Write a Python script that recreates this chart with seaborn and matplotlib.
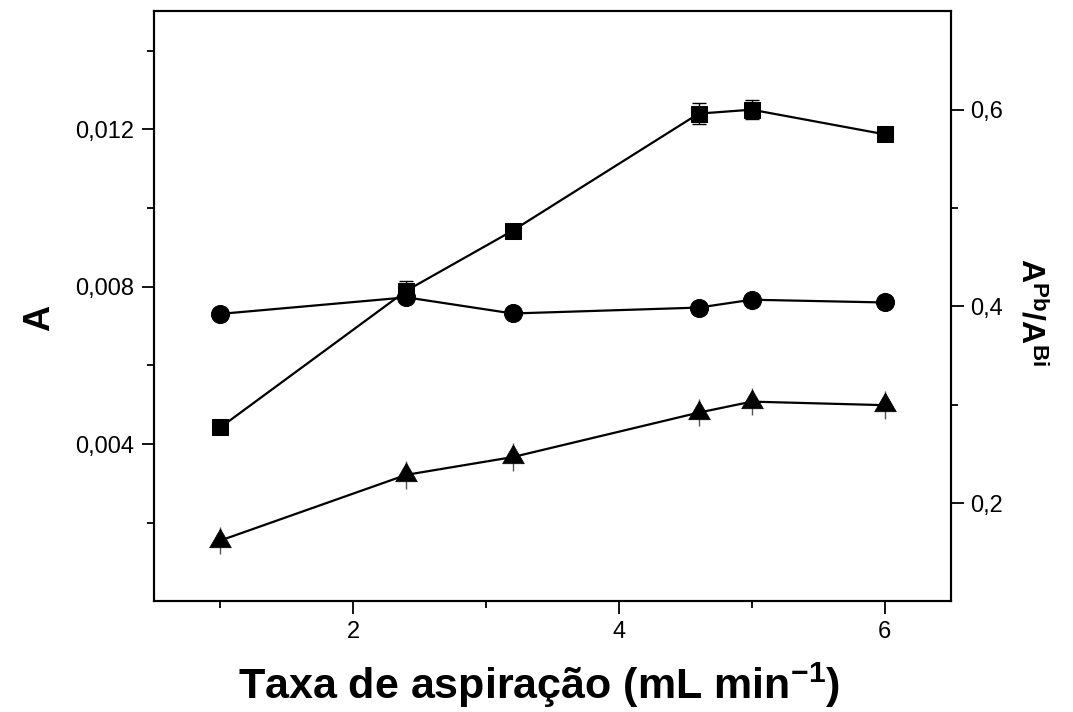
import matplotlib
matplotlib.use("Agg")
import matplotlib.pyplot as plt
import seaborn as sns
import numpy as np
import pandas as pd
from matplotlib.ticker import FuncFormatter, FixedLocator

# ---- data ----
rate = [1.0, 2.4, 3.2, 4.6, 5.0, 6.0]
ratio_pb_bi = [0.277, 0.416, 0.477, 0.596, 0.600, 0.575]      # squares (right axis)
ratio_err = [0.003, 0.010, 0.003, 0.011, 0.0095, 0.003]
abs_bi = [0.00731, 0.00773, 0.00732, 0.00747, 0.00767, 0.00760]  # circles (left axis)
abs_bi_err = [0.0001, 0.0001, 0.0001, 0.0001, 0.0001, 0.0001]
abs_pb = [0.00155, 0.00322, 0.00367, 0.00480, 0.00508, 0.00499]  # triangles (left axis)
abs_pb_err = [0.00035, 0.00035, 0.00035, 0.00035, 0.00035, 0.00035]

x_ticks = [2, 4, 6]
x_minor = [1, 3, 5]
yl_ticks = [0.004, 0.008, 0.012]
yl_minor = [0.002, 0.006, 0.010, 0.014]
yr_ticks = [0.2, 0.4, 0.6]
yr_minor = [0.3, 0.5]

x_label = "Taxa de aspiração (mL min$^{\\mathbf{-1}}$)"
y_left_label = "A"
y_right_label = "$\\mathbf{A^{Pb}/A^{Bi}}$"

sns.set_theme(style="ticks")
plt.rcParams["font.family"] = ["Liberation Sans", "DejaVu Sans"]
plt.rcParams["mathtext.fontset"] = "custom"
plt.rcParams["mathtext.rm"] = "Liberation Sans"
plt.rcParams["mathtext.bf"] = "Liberation Sans:bold"
plt.rcParams["mathtext.it"] = "Liberation Sans:italic"
plt.rcParams["text.color"] = "black"
plt.rcParams["axes.labelcolor"] = "black"

fig = plt.figure(figsize=(10.73, 7.12), dpi=100)
ax = fig.add_axes([0.1435, 0.1552, 0.7428, 0.8289])
ax2 = ax.twinx()
# draw left-axis series above the right-axis series
ax.set_zorder(ax2.get_zorder() + 1)
ax.patch.set_visible(False)

df_l = pd.DataFrame({"x": rate, "bi": abs_bi, "pb": abs_pb})
df_r = pd.DataFrame({"x": rate, "r": ratio_pb_bi})

# triangle marker centred on its centroid (Origin style)
tri = [(0.0, 1.0), (-0.866, -0.5), (0.866, -0.5), (0.0, 1.0)]

lw = 1.6
ax.errorbar(rate, abs_pb, yerr=abs_pb_err, fmt="none", ecolor="#555555",
            elinewidth=1.0, capsize=0, zorder=2)
ax.errorbar(rate, abs_bi, yerr=abs_bi_err, fmt="none", ecolor="black",
            elinewidth=1.0, capsize=4, capthick=1.0, zorder=2)
ax2.errorbar(rate, ratio_pb_bi, yerr=ratio_err, fmt="none", ecolor="black",
             elinewidth=1.0, capsize=5, capthick=1.0, zorder=2)

sns.lineplot(data=df_l, x="x", y="bi", ax=ax, color="black", lw=lw,
             marker="o", markersize=13, markeredgecolor="black", zorder=3)
sns.lineplot(data=df_l, x="x", y="pb", ax=ax, color="black", lw=lw,
             marker=tri, markersize=18, markeredgewidth=0.5,
             markeredgecolor="black", zorder=3)
sns.lineplot(data=df_r, x="x", y="r", ax=ax2, color="black", lw=lw,
             marker="s", markersize=12, markeredgecolor="black", zorder=3)

ax.set_xlim(0.5, 6.5)
ax.set_ylim(0.0, 0.015)
ax2.set_ylim(0.1, 0.7)

ax.xaxis.set_major_locator(FixedLocator(x_ticks))
ax.xaxis.set_minor_locator(FixedLocator(x_minor))
ax.yaxis.set_major_locator(FixedLocator(yl_ticks))
ax.yaxis.set_minor_locator(FixedLocator(yl_minor))
ax2.yaxis.set_major_locator(FixedLocator(yr_ticks))
ax2.yaxis.set_minor_locator(FixedLocator(yr_minor))

def comma_fmt(dec):
    return FuncFormatter(lambda v, pos: f"{v:.{dec}f}".replace(".", ","))

ax.xaxis.set_major_formatter(FuncFormatter(lambda v, p: f"{v:.0f}"))
ax.yaxis.set_major_formatter(comma_fmt(3))
ax2.yaxis.set_major_formatter(comma_fmt(1))

for a in (ax, ax2):
    for sp in a.spines.values():
        sp.set_linewidth(1.5)
        sp.set_color("black")
    a.tick_params(which="both", direction="out", width=1.3, color="black",
                  labelsize=17, labelcolor="black")
    a.tick_params(which="major", length=9, pad=5)
    a.tick_params(which="minor", length=5)
ax.tick_params(axis="x", top=False, which="both")
ax.tick_params(axis="y", right=False, which="both")
ax2.tick_params(axis="y", left=False, which="both")
ax2.tick_params(axis="x", top=False, bottom=False, which="both")

ax.set_xlabel(x_label, fontsize=31, fontweight="bold")
ax.xaxis.set_label_coords(0.483, -0.142)
ax.xaxis.label.set_va("center")
ax.set_ylabel(y_left_label, fontsize=26, fontweight="bold")
ax.yaxis.set_label_coords(-0.143, 0.48)
ax.yaxis.label.set_va("center")
ax2.set_ylabel(y_right_label, fontsize=23, fontweight="bold", rotation=270)
ax2.yaxis.set_label_coords(1.10, 0.49)
ax2.yaxis.label.set_va("center")
ax2.yaxis.label.set_ha("center")

fig.savefig("out.png", dpi=100)
